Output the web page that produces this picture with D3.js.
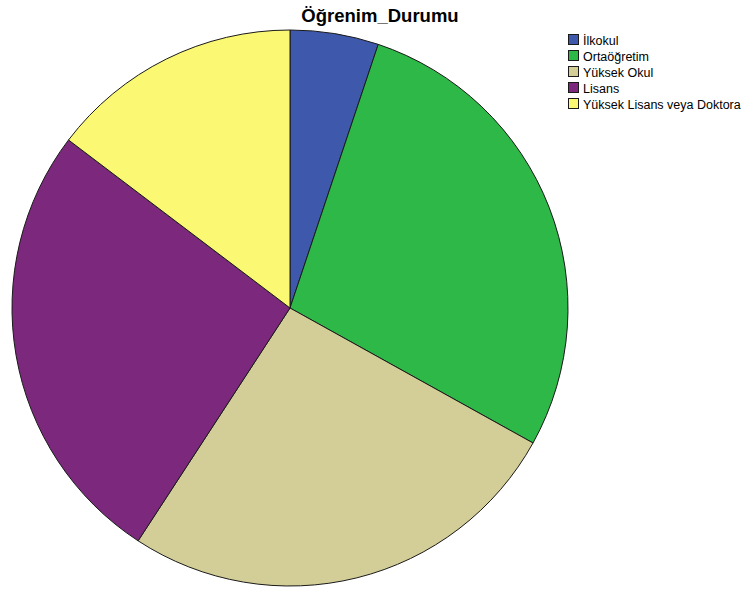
<!DOCTYPE html>
<html>
<head>
<meta charset="utf-8">
<script src="https://cdn.jsdelivr.net/npm/d3@7"></script>
<style>
  body { margin: 0; background: #fff; }
  text { font-family: "Liberation Sans", Arial, sans-serif; }
</style>
</head>
<body>
<svg id="chart" width="753" height="593"></svg>
<script>
var categories = ['İlkokul', 'Ortaöğretim', 'Yüksek Okul', 'Lisans', 'Yüksek Lisans veya Doktora'];
var values = [5.14, 27.93, 26.13, 26.13, 14.67];
var colors = ['#3e58ac', '#2eb848', '#d3ce97', '#7c287d', '#fbf873'];

var svg = d3.select('#chart');

// title
svg.append('text')
    .attr('x', 380)
    .attr('y', 22)
    .attr('text-anchor', 'middle')
    .style('font-size', '18.5px')
    .style('font-weight', 'bold')
    .text('Öğrenim_Durumu');

var pie = d3.pie().sort(null).value(function(d) { return d; });
var arc = d3.arc().innerRadius(0).outerRadius(278);

var g = svg.append('g').attr('transform', 'translate(290,308)');

g.selectAll('path')
    .data(pie(values))
    .enter()
    .append('path')
    .attr('d', arc)
    .attr('fill', function(d, i) { return colors[i]; })
    .attr('stroke', '#1a1a1a')
    .attr('stroke-width', 1);

// legend
var legend = svg.append('g').attr('transform', 'translate(568,34)');
var rows = legend.selectAll('g')
    .data(categories)
    .enter()
    .append('g')
    .attr('transform', function(d, i) { return 'translate(0,' + (i * 16) + ')'; });

rows.append('rect')
    .attr('x', 0.5)
    .attr('y', 0.5)
    .attr('width', 10)
    .attr('height', 10)
    .attr('fill', function(d, i) { return colors[i]; })
    .attr('stroke', '#1a1a1a')
    .attr('stroke-width', 1);

rows.append('text')
    .attr('x', 15)
    .attr('y', 10.5)
    .style('font-size', '12.5px')
    .text(function(d) { return d; });
</script>
</body>
</html>
